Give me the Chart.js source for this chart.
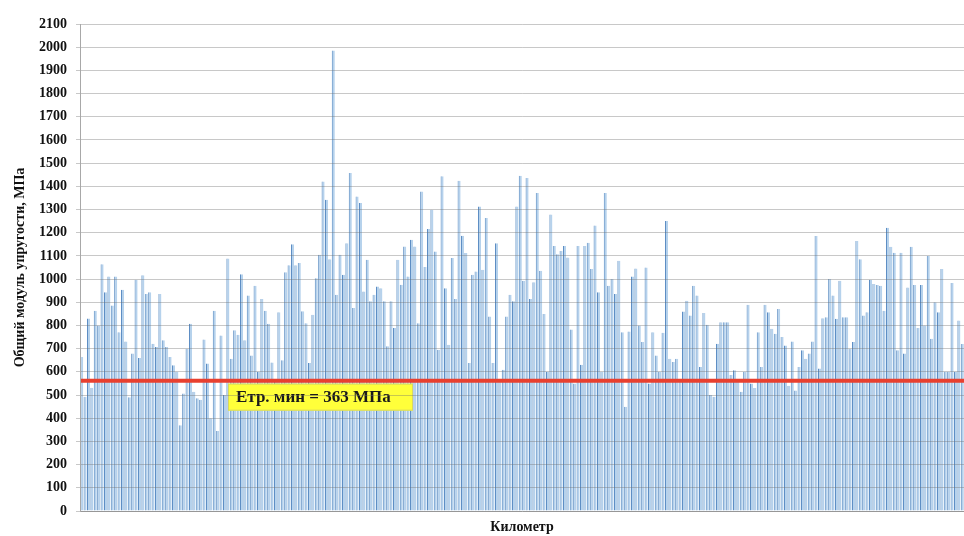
<!DOCTYPE html>
<html>
<head>
<meta charset="utf-8">
<script src="https://cdn.jsdelivr.net/npm/chart.js@4"></script>
<style>
  html, body { margin: 0; padding: 0; background: #fff; }
  #wrap { width: 964px; height: 536px; }
</style>
</head>
<body>
<div id="wrap"><canvas id="grafica" width="964" height="536"></canvas></div>
<script>
// значения модуля упругости по отрезкам, МПа
const valores1 = [664, 493, 830, 531, 864, 800, 1064, 943, 1011, 886, 1011, 771, 954, 731, 490, 679,
  997, 660, 1017, 936, 943, 721, 707, 936, 736, 707, 664, 629, 600, 370, 507, 700,
  807, 514, 486, 480, 739, 636, 400, 864, 345, 757, 500, 1089, 657, 779, 760, 1021,
  736, 929, 671, 971, 600, 914, 864, 807, 640, 560, 857, 650, 1029, 1060, 1150, 1060];
const valores2 = [1069, 861, 810, 638, 846, 1004, 1105, 1421, 1342, 1086, 1986, 932, 1105, 1019, 1155, 1457,
  875, 1356, 1328, 947, 1083, 904, 932, 968, 961, 904, 710, 904, 789, 1083, 976, 1141,
  1011, 1170, 1141, 810, 1378, 1052, 1216, 1299, 1119, 695, 1443, 961, 717, 1091, 914, 1424,
  1187, 1112, 638, 1019, 1033, 1313, 1040, 1263, 839, 638, 1155, 560, 609, 839, 932, 904, 1313];
const valores3 = [1446, 993, 1436, 914, 986, 1371, 1036, 850, 600, 1279, 1143, 1107, 1121, 1143, 1093, 783,
  550, 1143, 631, 1143, 1157, 1043, 1231, 943, 600, 1371, 971, 1000, 936, 1079, 771, 450,
  774, 1011, 1046, 800, 729, 1050, 550, 771, 671, 600, 769, 1250, 657, 643, 657, 560,
  860, 907, 843, 971, 929, 621, 854, 803, 500, 493, 721, 814, 814, 814, 586, 607, 560];
const valores4 = [514, 600, 889, 550, 530, 771, 621, 889, 857, 786, 764, 871, 750, 714, 540, 731,
  520, 621, 693, 657, 679, 731, 1186, 614, 831, 836, 1000, 929, 829, 993, 836, 836,
  700, 729, 1164, 1086, 843, 857, 997, 979, 974, 971, 864, 1221, 1140, 1114, 693, 1114,
  679, 964, 1140, 974, 789, 974, 800, 1100, 743, 900, 857, 1043, 600, 600, 983, 600, 821, 720];

const valores = valores1.concat(valores2, valores3, valores4);
const categorias = valores.map(function (v, i) { return String(i + 1); });

const ejeYmin = 0;
const ejeYmax = 2100;
const ejeYpaso = 100;

const lineaMin = 562;
const textoMin = "Етр. мин = 363 МПа";
const tituloY = "Общий модуль упругости, МПа";
const tituloX = "Километр";

// красная линия и жёлтая подпись
const lineaPlugin = {
  id: "lineaMin",
  afterDatasetsDraw: function (chart) {
    const ctx = chart.ctx;
    const area = chart.chartArea;
    const y = chart.scales.y.getPixelForValue(lineaMin);
    ctx.save();
    ctx.strokeStyle = "#e8402f";
    ctx.lineWidth = 4;
    ctx.beginPath();
    ctx.moveTo(area.left, y);
    ctx.lineTo(area.right, y);
    ctx.stroke();

    const bx = area.left + 148;
    const by = y + 3;
    ctx.fillStyle = "#ffff3a";
    ctx.fillRect(bx, by, 185, 27);
    ctx.strokeStyle = "#d8d860";
    ctx.lineWidth = 1;
    ctx.strokeRect(bx + 0.5, by + 0.5, 184, 26);
    ctx.fillStyle = "#1a1a1a";
    ctx.font = "bold 17px 'Liberation Serif'";
    ctx.textBaseline = "middle";
    ctx.fillText(textoMin, bx + 8, by + 14);
    ctx.restore();
  }
};

const ctx = document.getElementById("grafica").getContext("2d");
const grafica = new Chart(ctx, {
  type: "bar",
  data: {
    labels: categorias,
    datasets: [{
      data: valores,
      backgroundColor: "#b6d2ec",
      borderColor: "#5689c0",
      borderWidth: { left: 1, right: 0, top: 0, bottom: 0 },
      borderSkipped: false,
      barPercentage: 0.9,
      categoryPercentage: 1.0
    }]
  },
  options: {
    responsive: false,
    animation: false,
    layout: { padding: { top: 24, right: 0, left: 0, bottom: 0 } },
    plugins: {
      legend: { display: false },
      tooltip: { enabled: false }
    },
    scales: {
      x: {
        ticks: { display: false },
        grid: { display: false },
        border: { color: "#b0b0b0" },
        title: {
          display: true,
          text: tituloX,
          color: "#111",
          font: { family: "'Liberation Serif'", size: 14, weight: "bold" },
          padding: { top: 2, bottom: 0 }
        },
        afterFit: function (scale) { scale.height = 25; }
      },
      y: {
        min: ejeYmin,
        max: ejeYmax,
        ticks: {
          stepSize: ejeYpaso,
          color: "#111",
          padding: 9,
          font: { family: "'Liberation Serif'", size: 14, weight: "bold" },
          callback: function (v) { return String(v); }
        },
        grid: { color: "rgba(110,110,110,0.38)", tickLength: 4, z: 1 },
        border: { color: "#a8a8a8", z: 1 },
        title: {
          display: true,
          text: tituloY,
          color: "#111",
          font: { family: "'Liberation Serif'", size: 14, weight: "bold" },
          padding: { top: 12, bottom: 0 }
        },
        afterFit: function (scale) { scale.width = 80; }
      }
    }
  },
  plugins: [lineaPlugin]
});
</script>
</body>
</html>
